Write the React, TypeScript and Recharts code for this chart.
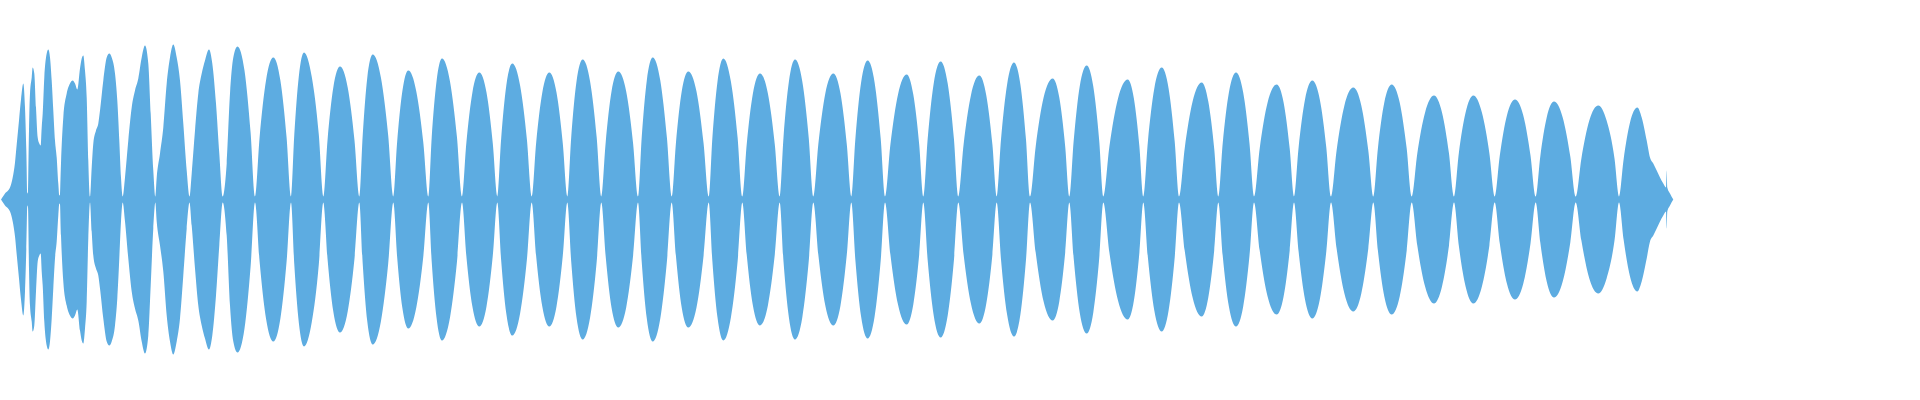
import React from "react";
import { AreaChart, Area, XAxis, YAxis } from "recharts";

// Time positions (ms) of the envelope samples
const timeMs: number[] = [
  1, 5, 10, 12.7, 15, 16.7, 19, 21, 23.3, 25, 26.3, 27.3, 28, 29, 30, 31.7, 32.7, 34.3, 36, 37.7, 39.3, 40.7, 41.7, 42.7, 44.3, 46.7, 48.3, 50, 51.7, 53.3, 55, 56.7, 58.3, 59.3,
  60, 61, 63.3, 66.7, 70, 72.7, 75, 77.3, 80, 81.7, 83.3, 85, 86.7, 88.3, 90,
  91.7, 93.3, 96, 98.3, 100, 103.3, 106.7, 109.3, 111.7, 115, 117.3, 119.3, 121, 122.7,
  125, 128.3, 131.7, 135, 138.3, 141.7, 145, 148.3, 150.7, 153.3, 155.3,
  156.7, 160, 163.3, 166.7, 170, 173.3, 176.7, 180, 183.3, 186.7, 189.5,
  191.7, 195, 198.3, 201.7, 205, 209, 212.3, 216, 219.3, 222.7,
  226.7, 230, 233.3, 237.5, 244.5, 250.6, 255,
  259.6, 266, 273.3, 280.4, 286.6, 291,
  294.3, 298.8, 304, 311.7, 318.8, 323.3,
  327.5, 333.3, 340, 347.7, 354.5, 359.3,
  362.7, 367.3, 372.7, 380.9, 388.2, 393.3,
  397.1, 402.3, 408.3, 416.3, 423.3, 428.3,
  431.7, 436.5, 442, 450, 457, 462,
  466.3, 472.4, 479.3, 486.5, 492.8, 497.3,
  501.1, 506.3, 512.3, 520.1, 526.9, 531.7,
  536.1, 542.3, 549.3, 556.5, 562.8, 567.3,
  571.2, 576.5, 582.7, 590.1, 596.7, 601.3,
  605.6, 611.5, 618.3, 626.2, 633.1, 638,
  641.7, 646.8, 652.7, 660.3, 666.9, 671.7,
  675.9, 681.7, 688.3, 696.5, 703.6, 708.7,
  712.4, 717.5, 723.3, 730.9, 737.6, 742.3,
  746.7, 752.9, 760, 767.9, 774.8, 779.7,
  783.5, 788.9, 795, 802.3, 808.7, 813.3,
  818.3, 825.3, 833.3, 840.5, 846.8, 851.3,
  855.4, 861.1, 867.7, 874.6, 880.7, 885,
  890.4, 898, 906.7, 913.3, 919.2, 923.3,
  927.7, 933.7, 940.7, 947.7, 953.9, 958.3,
  963.6, 970.9, 979.3, 986.3, 992.4, 996.7,
  1001, 1007.1, 1014, 1020.4, 1026, 1030,
  1035.7, 1043.6, 1052.7, 1059.3, 1065.2, 1069.3,
  1073.7, 1079.7, 1086.7, 1093.3, 1099.2, 1103.3,
  1109.4, 1118, 1127.7, 1133.9, 1139.4, 1143.3,
  1147.9, 1154.3, 1161.7, 1168.6, 1174.7, 1179,
  1184.7, 1192.6, 1201.7, 1208.3, 1214.2, 1218.3,
  1222.7, 1228.9, 1236, 1243.2, 1249.5, 1254,
  1259.7, 1267.6, 1276.7, 1283.6, 1289.7, 1294,
  1298.6, 1305, 1312.3, 1319.8, 1326.3, 1331,
  1336.6, 1344.4, 1353.3, 1361.3, 1368.3, 1373.3,
  1377.9, 1384.3, 1391.7, 1399.7, 1406.7, 1411.7,
  1417.3, 1425.1, 1434, 1442, 1449, 1454,
  1458.8, 1465.6, 1473.3, 1481.9, 1489.4, 1494.7,
  1499.8, 1506.9, 1515, 1523.3, 1530.5, 1535.7,
  1540.3, 1546.7, 1554, 1562.7, 1570.3, 1575.7,
  1581.4, 1589.3, 1598.3, 1606.6, 1614.5, 1619,
  1623.6, 1630, 1637.3, 1641.7, 1646.7, 1650, 1653.3, 1656.7, 1660, 1663.3, 1666, 1666.7, 1667.3, 1670, 1673.3,
];

// Envelope amplitude at each time (symmetric around zero)
const amplitude: number[] = [
  0, 6, 12, 22, 37, 55, 79, 100, 116, 92, 50, 6, 8, 69, 106, 122, 132, 126, 92, 62, 56, 54, 72, 86, 122, 146, 150, 142, 119, 89, 59, 42, 16, 4,
  5, 36, 82, 106, 116, 119, 116, 110, 131, 141, 144, 129, 102, 39, 3,
  32, 56, 69, 76, 89, 119, 142, 146, 142, 126, 99, 59, 22, 3,
  22, 59, 92, 109, 121, 142, 154, 136, 86, 29, 3,
  22, 46, 72, 116, 142, 155, 142, 119, 76, 29, 3,
  26, 69, 106, 126, 139, 150, 136, 96, 46, 3,
  36, 106, 142, 153, 129, 67, 3,
  62, 119, 142, 119, 62, 3,
  65, 123, 147, 123, 65, 3,
  59, 112, 133, 112, 59, 3,
  64, 122, 145, 122, 64, 3,
  57, 108, 129, 108, 57, 3,
  62, 118, 141, 118, 62, 3,
  56, 107, 127, 107, 56, 3,
  60, 114, 136, 114, 60, 3,
  56, 107, 127, 107, 56, 3,
  62, 118, 140, 118, 62, 3,
  56, 108, 128, 108, 56, 3,
  62, 119, 142, 119, 62, 3,
  56, 108, 128, 108, 56, 3,
  62, 118, 141, 118, 62, 3,
  55, 106, 126, 106, 55, 3,
  62, 118, 140, 118, 62, 3,
  55, 106, 126, 106, 55, 3,
  61, 117, 139, 117, 61, 3,
  55, 105, 125, 105, 55, 3,
  61, 116, 138, 116, 61, 3,
  55, 104, 124, 104, 55, 3,
  60, 115, 137, 115, 60, 3,
  53, 102, 121, 102, 53, 3,
  59, 113, 134, 113, 59, 3,
  53, 101, 120, 101, 53, 3,
  58, 111, 132, 111, 58, 3,
  51, 98, 117, 98, 51, 3,
  56, 107, 127, 107, 56, 3,
  51, 97, 115, 97, 51, 3,
  52, 100, 119, 100, 52, 3,
  49, 94, 112, 94, 49, 3,
  51, 97, 115, 97, 51, 3,
  46, 87, 104, 87, 46, 3,
  46, 87, 104, 87, 46, 3,
  44, 84, 100, 84, 44, 3,
  43, 82, 98, 82, 43, 3,
  41, 79, 94, 79, 41, 3,
  40, 77, 92, 82, 59, 42, 36, 29, 22, 16, 12, 29, 12, 6, 0,
];

const rows = timeMs.map((t, i) => ({ t, band: [-amplitude[i], amplitude[i]] }));

export default function App() {
  return (
    <div style={{ position: "absolute", left: 0, top: 0, width: 1920, height: 400, background: "#ffffff" }}>
      <AreaChart width={1920} height={399} data={rows} margin={{ top: 0, right: 0, bottom: 0, left: 0 }}>
        <XAxis dataKey="t" type="number" domain={[0, 1920]} hide />
        <YAxis type="number" domain={[-199.5, 199.5]} hide />
        <Area
          dataKey="band"
          type="monotone"
          fill="#5DACE1"
          fillOpacity={1}
          stroke="none"
          dot={false}
          activeDot={false}
          isAnimationActive={false}
        />
      </AreaChart>
    </div>
  );
}
